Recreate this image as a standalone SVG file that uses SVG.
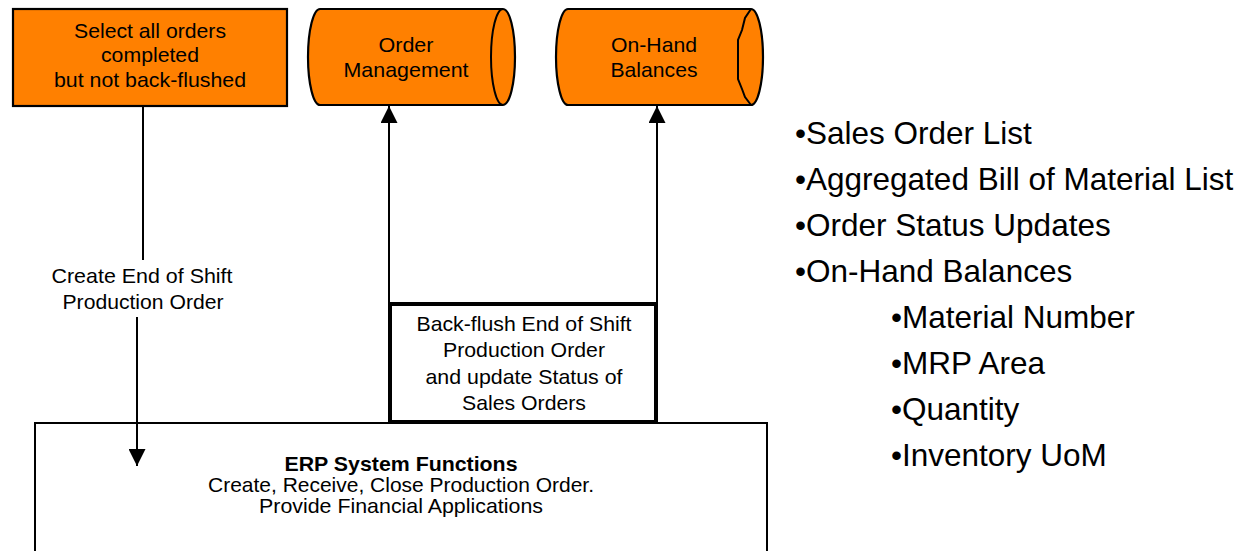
<svg xmlns="http://www.w3.org/2000/svg" width="1257" height="551" viewBox="0 0 1257 551">
  <defs>
    <style>
      .lbl { font-family: "Liberation Sans", Arial, sans-serif; font-size: 21px; fill: #000; text-anchor: middle; }
      .bold { font-weight: bold; }
      .list { font-family: "Liberation Sans", Arial, sans-serif; font-size: 31.5px; fill: #000; }
      .orange { fill: #FF8000; stroke: #000; stroke-width: 2.2; }
      .edge { fill: none; stroke: #000; stroke-width: 2; }
    </style>
    <marker id="arrow" markerUnits="userSpaceOnUse" markerWidth="17" markerHeight="17" refX="17" refY="8.5" orient="auto">
      <path d="M0,0 L17,8.5 L0,17 Z" fill="#000"/>
    </marker>
  </defs>
  <rect width="1257" height="551" fill="#fff"/>

  <!-- process: select completed orders -->
  <g id="select-orders">
    <rect class="orange" x="13" y="9" width="274" height="97"/>
    <text class="lbl" x="150" y="38" textLength="152" lengthAdjust="spacingAndGlyphs">Select all orders</text>
    <text class="lbl" x="150" y="62" textLength="98" lengthAdjust="spacingAndGlyphs">completed</text>
    <text class="lbl" x="150" y="87" textLength="192" lengthAdjust="spacingAndGlyphs">but not back-flushed</text>
  </g>

  <!-- data store: order management -->
  <g id="order-management">
    <path class="orange" d="M320,9 L503,9 A12,48 0 0 1 503,105 L320,105 A12,48 0 0 1 320,9 Z"/>
    <path class="edge" d="M503,9 A12,48 0 0 0 503,105" stroke-width="2.2"/>
    <text class="lbl" x="406" y="52" textLength="55" lengthAdjust="spacingAndGlyphs">Order</text>
    <text class="lbl" x="406" y="77" textLength="125" lengthAdjust="spacingAndGlyphs">Management</text>
  </g>

  <!-- data store: on-hand balances -->
  <g id="on-hand-balances">
    <path class="orange" d="M568,9 L751,9 A12,48 0 0 1 751,105 L568,105 A12,48 0 0 1 568,9 Z"/>
    <path class="edge" d="M751,9 L745,18 L742,30 L738,40 L738,79 L742,89 L745,97 L751,105" stroke-width="2.2"/>
    <text class="lbl" x="654" y="52" textLength="86" lengthAdjust="spacingAndGlyphs">On-Hand</text>
    <text class="lbl" x="654" y="77" textLength="87" lengthAdjust="spacingAndGlyphs">Balances</text>
  </g>

  <!-- ERP system -->
  <g id="erp-system">
    <rect x="35" y="423" width="732" height="150" fill="#fff" stroke="#000" stroke-width="2"/>
    <text class="lbl bold" x="401" y="471" textLength="233" lengthAdjust="spacingAndGlyphs">ERP System Functions</text>
    <text class="lbl" x="401" y="492" textLength="386" lengthAdjust="spacingAndGlyphs">Create, Receive, Close Production Order.</text>
    <text class="lbl" x="401" y="513" textLength="284" lengthAdjust="spacingAndGlyphs">Provide Financial Applications</text>
  </g>

  <!-- connectors -->
  <g id="connectors">
    <line class="edge" x1="143" y1="106" x2="143" y2="260"/>
    <line class="edge" x1="137" y1="317" x2="137" y2="466" marker-end="url(#arrow)"/>
    <line class="edge" x1="389" y1="304" x2="389" y2="106" marker-end="url(#arrow)"/>
    <line class="edge" x1="657" y1="304" x2="657" y2="106" marker-end="url(#arrow)"/>
    <text class="lbl" x="142" y="283" textLength="181" lengthAdjust="spacingAndGlyphs">Create End of Shift</text>
    <text class="lbl" x="143" y="309" textLength="161" lengthAdjust="spacingAndGlyphs">Production Order</text>
  </g>

  <!-- process: back-flush -->
  <g id="back-flush">
    <rect x="390" y="304" width="266" height="118" fill="#fff" stroke="#000" stroke-width="4"/>
    <text class="lbl" x="524" y="331" textLength="215" lengthAdjust="spacingAndGlyphs">Back-flush End of Shift</text>
    <text class="lbl" x="524" y="357" textLength="162" lengthAdjust="spacingAndGlyphs">Production Order</text>
    <text class="lbl" x="524" y="384" textLength="197" lengthAdjust="spacingAndGlyphs">and update Status of</text>
    <text class="lbl" x="524" y="410" textLength="124" lengthAdjust="spacingAndGlyphs">Sales Orders</text>
  </g>

  <!-- data list -->
  <g id="data-list">
    <text class="list" x="795" y="144">•Sales Order List</text>
    <text class="list" x="795" y="190">•Aggregated Bill of Material List</text>
    <text class="list" x="795" y="236">•Order Status Updates</text>
    <text class="list" x="795" y="282">•On-Hand Balances</text>
    <text class="list" x="891" y="328">•Material Number</text>
    <text class="list" x="891" y="374">•MRP Area</text>
    <text class="list" x="891" y="420">•Quantity</text>
    <text class="list" x="891" y="466">•Inventory UoM</text>
  </g>
</svg>
